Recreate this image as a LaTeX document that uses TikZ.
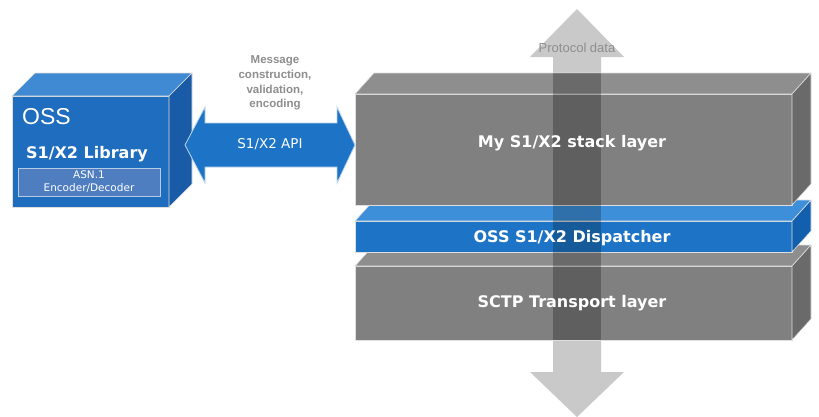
\documentclass[tikz,border=0pt]{standalone}
\usepackage{fontspec}
\setmainfont{DejaVu Sans}
\newfontfamily\arialf{Liberation Sans}
\definecolor{grayfront}{HTML}{808080}
\definecolor{graytop}{HTML}{8E8E8E}
\definecolor{grayside}{HTML}{6A6A6A}
\definecolor{bluefront}{HTML}{1D74C6}
\definecolor{bluetop}{HTML}{3D8FDA}
\definecolor{blueside}{HTML}{1260AD}
\definecolor{ossfront}{HTML}{1F6DBE}
\definecolor{osstop}{HTML}{3F8AD2}
\definecolor{ossside}{HTML}{195BA6}
\definecolor{asnfill}{HTML}{4E7DC0}
\definecolor{arrowgray}{HTML}{C9C9C9}
\definecolor{labelgray}{HTML}{8E8E8E}
\tikzset{
  edge/.style={draw=white!75!gray, line width=0.6pt, line join=round},
  boxtext/.style={text=white, font=\bfseries\fontsize{16}{18}\selectfont, inner sep=0pt},
}
% cuboid: x1,y1 (front top-left), x2,y2 (front bottom-right), dx, dy, front, top, side
\newcommand\mycuboid[9]{%
  \fill[#7,edge] (#1,#2) rectangle (#3,#4);
  \fill[#8,edge] (#1,#2) -- (#1+#5,#2-#6) -- (#3+#5,#2-#6) -- (#3,#2) -- cycle;
  \fill[#9,edge] (#3,#2) -- (#3+#5,#2-#6) -- (#3+#5,#4-#6) -- (#3,#4) -- cycle;
}
\begin{document}
\begin{tikzpicture}[x=1pt,y=-1pt]
\useasboundingbox (0,0) rectangle (819,416);
\fill[white] (0,0) rectangle (819,416);

% vertical protocol data arrow (behind)
\fill[arrowgray] (577,9) -- (624,57) -- (601,57) -- (601,372) -- (624,372) -- (577,417)
  -- (530,372) -- (553,372) -- (553,57) -- (530,57) -- cycle;
\node[font=\arialf\fontsize{13}{15}\selectfont, text=labelgray, inner sep=0pt] (pd) at (577,48) {Protocol data};

% right stack, bottom to top
\mycuboid{355}{266}{792}{340}{19}{21}{grayfront}{graytop}{grayside}
\mycuboid{355}{221}{792}{252}{19}{21}{bluefront}{bluetop}{blueside}
\mycuboid{355}{94}{792}{205}{19}{21}{grayfront}{graytop}{grayside}

% darkened shaft over the boxes
\fill[black, opacity=0.25] (553,73) rectangle (601,205);
\fill[black, opacity=0.22] (553,205) rectangle (601,252);
\fill[black, opacity=0.25] (553,252) rectangle (601,340);

\node[boxtext] (stack) at (572,143) {My S1/X2 stack layer};
\node[boxtext] (disp) at (572,238) {OSS S1/X2 Dispatcher};
\node[boxtext] (sctp) at (572,303) {SCTP Transport layer};

% OSS library box
\mycuboid{12}{96}{169}{207}{23}{23}{ossfront}{osstop}{ossside}
\node[text=white, font=\arialf\fontsize{23}{25}\selectfont, anchor=west, inner sep=0pt] (oss) at (22,117) {OSS};
\node[text=white, font=\bfseries\fontsize{16}{18}\selectfont, inner sep=0pt] (lib) at (87,154) {S1/X2 Library};
\node[fill=asnfill, draw=white!60!asnfill, line width=0.8pt, minimum width=142pt, minimum height=28pt, inner sep=0pt,
  text=white, font=\fontsize{10.5}{13}\selectfont, align=center] (asn) at (89,182) {ASN.1\\Encoder/Decoder};

% API double arrow
\fill[bluefront, draw=white!70!bluefront, line width=0.8pt, line join=miter]
  (185,145) -- (205,107) -- (205,123) -- (337,123) -- (337,107) -- (355,145)
  -- (337,183) -- (337,167) -- (205,167) -- (205,183) -- cycle;
\node[text=white, font=\fontsize{13.5}{15}\selectfont, inner sep=0pt] (api) at (270,144) {S1/X2 API};

\node[text=labelgray, font=\arialf\bfseries\fontsize{11.5}{14.7}\selectfont, align=center, inner sep=0pt] (msg) at (275,83)
  {Message\\construction,\\validation,\\encoding};
\end{tikzpicture}
\end{document}
